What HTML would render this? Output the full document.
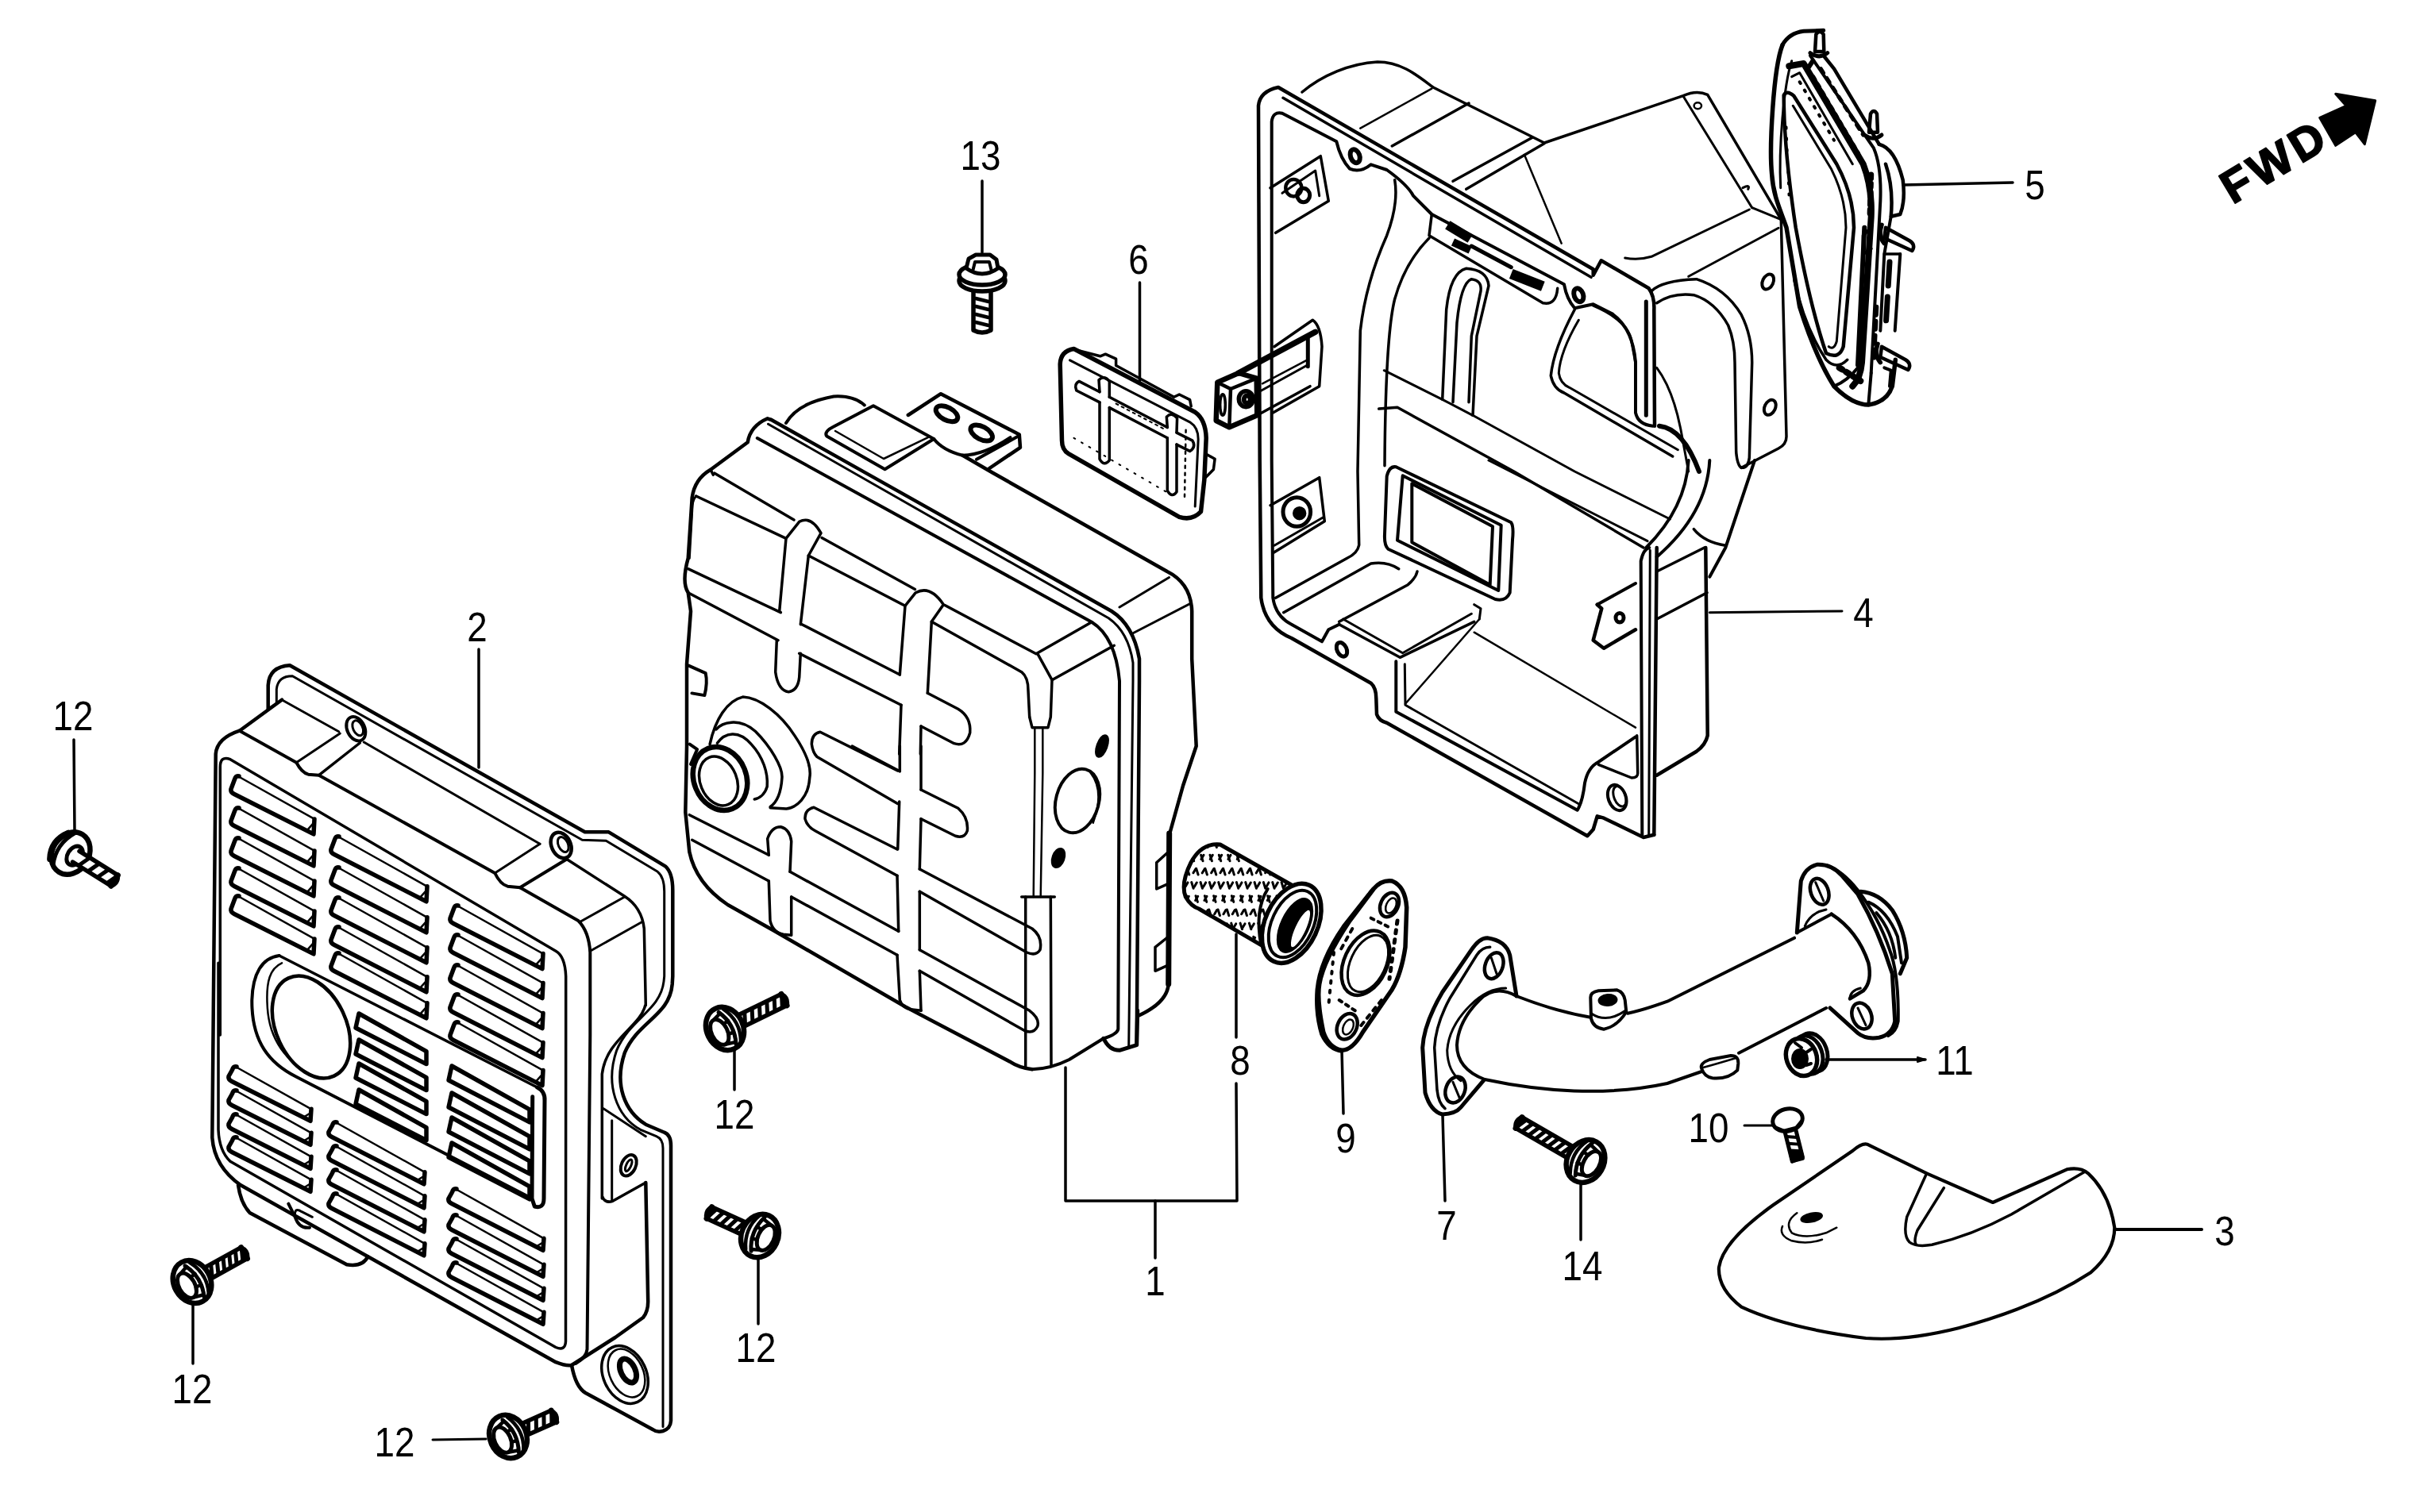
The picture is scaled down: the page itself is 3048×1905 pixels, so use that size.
<!DOCTYPE html>
<html><head><meta charset="utf-8"><style>
html,body{margin:0;padding:0;background:#fff;}
svg{display:block}
svg text{font-family:"Liberation Sans",sans-serif;}
</style></head><body>
<svg width="3048" height="1905" viewBox="0 0 3048 1905" fill="none" stroke="#000" stroke-linecap="round" stroke-linejoin="round">
<rect width="3048" height="1905" fill="#fff" stroke="none"/>
<g id="p2">
<path d="M 337.7,893.3 L 337.7,863.3 Q 339.0,840.0 365.0,838.3 L 736.7,1048.3 L 766.7,1048.3 L 838.3,1091.7 Q 847.3,1100.0 847.3,1121.7 L 847.3,1230.0 L 846.7,1240.0 C 843.3,1280.0 803.3,1286.7 786.7,1326.7 C 773.3,1366.7 786.7,1400.0 813.3,1416.7 L 836.7,1426.7 Q 845.0,1430.0 845.0,1443.3 L 845.0,1584.0 L 845.0,1790.0 Q 844.5,1800.0 835.0,1803.0 Q 827.5,1805.0 822.5,1801.2 L 737.5,1755.0 Q 725.0,1747.5 720.0,1720.0" stroke-width="4.5" />
<path d="M 348.3,885.0 L 348.3,868.3 Q 350.0,851.7 368.3,851.7 L 733.3,1058.3 L 763.3,1059.3 L 828.3,1098.3 Q 836.7,1105.0 836.7,1123.3 L 836.7,1230.0 L 836.0,1236.7 C 831.7,1273.3 793.3,1283.3 776.7,1323.3 C 761.7,1366.7 776.7,1406.7 806.7,1423.3 L 826.7,1431.7 Q 835.0,1435.0 835.0,1446.7 L 835.0,1584.0 L 835.0,1797.5" stroke-width="3" />
<path d="M 355.0,881.7 L 301.7,920.7 Q 273.3,930.0 271.7,950.0 L 267.3,1433.3 Q 270.0,1470.0 303.3,1493.3 L 700.0,1716.2 Q 712.5,1721.2 720.0,1720.0 L 775.0,1685.0 L 810.0,1660.0 Q 816.2,1652.5 816.2,1640.0 L 813.3,1490.0" stroke-width="4.5" />
<path d="M 337.7,893.3 L 355.0,881.7" stroke-width="3" />
<path d="M 715.0,1083.3 L 786.7,1129.3 Q 808.3,1143.3 811.3,1170.0 L 813.3,1266.7 L 812.7,1266.7 C 806.7,1293.3 763.3,1310.0 758.3,1353.3 L 758.3,1510.0 L 758.3,1506.7 Q 761.7,1516.7 771.7,1513.3 L 813.3,1490.0" stroke-width="3.5" />
<path d="M 770.7,1411.7 L 770.7,1511.7" stroke-width="3" />
<path d="M 760.0,1396.7 L 813.3,1431.7" stroke-width="3" />
<ellipse cx="791.7" cy="1468.3" rx="9.0" ry="14.0" transform="rotate(25 791.7 1468.3)" stroke-width="4" fill="none"/>
<ellipse cx="791.7" cy="1468.3" rx="3.0" ry="8.0" transform="rotate(25 791.7 1468.3)" stroke-width="3" fill="none"/>
<path d="M 277.3,1304.0 L 277.3,966.7 Q 277.3,951.7 290.0,956.7 L 700.0,1198.3 Q 711.7,1205.0 712.7,1230.0 L 712.7,1304.0 L 712.5,1690.0 Q 712.0,1702.5 700.0,1697.5 L 290.0,1463.3 Q 276.0,1450.0 275.0,1423.3 L 275.0,1213.3" stroke-width="3.5" />
<path d="M 355.0,881.7 L 426.7,921.7" stroke-width="3" />
<path d="M 458.3,935.0 L 680.0,1063.3" stroke-width="3" />
<ellipse cx="448.3" cy="918.3" rx="11.0" ry="16.0" transform="rotate(-25 448.3 918.3)" stroke-width="4" fill="none"/>
<ellipse cx="450.7" cy="917.3" rx="6.0" ry="10.0" transform="rotate(-25 450.7 917.3)" stroke-width="3" fill="none"/>
<ellipse cx="706.7" cy="1065.0" rx="12.0" ry="17.0" transform="rotate(-25 706.7 1065.0)" stroke-width="4.5" fill="none"/>
<ellipse cx="709.3" cy="1064.0" rx="6.0" ry="10.0" transform="rotate(-25 709.3 1064.0)" stroke-width="3" fill="none"/>
<path d="M 301.7,920.7 L 373.3,960.7 Q 380.0,973.3 388.3,975.7 L 401.7,976.7 L 623.3,1100.0 Q 630.0,1114.0 639.3,1116.7 L 655.0,1118.3 L 728.3,1160.0 Q 741.7,1173.3 743.3,1200.0 L 743.3,1304.0 L 739.5,1700.0 Q 738.8,1710.0 725.0,1718.0" stroke-width="4" />
<path d="M 373.3,960.7 L 428.3,924.0" stroke-width="3" />
<path d="M 401.7,976.7 L 453.3,936.0" stroke-width="3.5" />
<path d="M 623.3,1100.0 L 680.0,1063.3" stroke-width="3" />
<path d="M 655.0,1118.3 L 713.3,1082.7" stroke-width="4" />
<path d="M 730.0,1161.7 L 786.7,1130.0" stroke-width="3" />
<path d="M 743.3,1198.3 L 808.3,1161.7" stroke-width="3" />
<ellipse cx="392.0" cy="1294.0" rx="44.0" ry="68.0" transform="rotate(-25 392.0 1294.0)" stroke-width="4.5" fill="none"/>
<path d="M 351.7,1204.0 C 330.0,1206.7 318.3,1226.7 317.3,1260.0 C 316.7,1313.3 340.0,1340.0 373.3,1356.7 L 670.0,1510.0" stroke-width="4" />
<path d="M 355.0,1213.3 C 340.0,1220.0 335.0,1236.7 336.7,1266.7 C 338.3,1306.7 356.7,1336.7 396.7,1356.7" stroke-width="2.5" />
<path d="M 351.7,1204.0 L 676.7,1370.0" stroke-width="3.5" />
<path d="M 676.7,1370.0 Q 686.7,1375.0 686.0,1386.7 L 685.0,1510.0 Q 685.0,1523.3 673.3,1520.0 L 670.0,1510.0 L 670.7,1381.7" stroke-width="5" />
<path d="M 300.0,1493.3 Q 303.3,1516.7 315.0,1528.3 L 436.7,1593.3 Q 456.7,1596.7 463.3,1583.3" stroke-width="4.5" />
<path d="M 363.3,1516.7 L 371.7,1533.3 Q 376.7,1548.3 390.0,1546.7" stroke-width="4" />
<path d="M 371.7,1533.3 Q 370.0,1520.0 380.0,1526.7 L 393.3,1533.3" stroke-width="3" />
<ellipse cx="787.0" cy="1732.0" rx="27.0" ry="38.0" transform="rotate(-25 787.0 1732.0)" stroke-width="3.5" fill="none"/>
<ellipse cx="789.0" cy="1730.0" rx="21.0" ry="32.0" transform="rotate(-25 789.0 1730.0)" stroke-width="2.5" fill="none"/>
<ellipse cx="791.0" cy="1727.0" rx="9.0" ry="16.0" transform="rotate(-25 791.0 1727.0)" stroke-width="7" fill="none"/>
<path d="M298.0,977.0 L396.0,1031.9" stroke-width="2.5" />
<path d="M301.0,978.0 Q297.0,977.0 295.5,982.0 L291.0,994.0 Q290.0,998.0 295.0,1000.5 L395.0,1050.9 L396.0,1031.9" stroke-width="5.5" />
<path d="M395.0,1036.9 L387.0,1045.9" stroke-width="2.5" />
<path d="M298.0,1017.0 L396.0,1071.9" stroke-width="2.5" />
<path d="M301.0,1018.0 Q297.0,1017.0 295.5,1022.0 L291.0,1034.0 Q290.0,1038.0 295.0,1040.5 L395.0,1090.9 L396.0,1071.9" stroke-width="5.5" />
<path d="M395.0,1076.9 L387.0,1085.9" stroke-width="2.5" />
<path d="M298.0,1055.0 L396.0,1109.9" stroke-width="2.5" />
<path d="M301.0,1056.0 Q297.0,1055.0 295.5,1060.0 L291.0,1072.0 Q290.0,1076.0 295.0,1078.5 L395.0,1128.9 L396.0,1109.9" stroke-width="5.5" />
<path d="M395.0,1114.9 L387.0,1123.9" stroke-width="2.5" />
<path d="M298.0,1093.0 L396.0,1147.9" stroke-width="2.5" />
<path d="M301.0,1094.0 Q297.0,1093.0 295.5,1098.0 L291.0,1110.0 Q290.0,1114.0 295.0,1116.5 L395.0,1166.9 L396.0,1147.9" stroke-width="5.5" />
<path d="M395.0,1152.9 L387.0,1161.9" stroke-width="2.5" />
<path d="M298.0,1128.0 L396.0,1182.9" stroke-width="2.5" />
<path d="M301.0,1129.0 Q297.0,1128.0 295.5,1133.0 L291.0,1145.0 Q290.0,1149.0 295.0,1151.5 L395.0,1201.9 L396.0,1182.9" stroke-width="5.5" />
<path d="M395.0,1187.9 L387.0,1196.9" stroke-width="2.5" />
<path d="M424.0,1053.0 L538.0,1116.8" stroke-width="2.5" />
<path d="M427.0,1054.0 Q423.0,1053.0 421.5,1058.0 L417.0,1070.0 Q416.0,1074.0 421.0,1076.5 L537.0,1135.8 L538.0,1116.8" stroke-width="5.5" />
<path d="M537.0,1121.8 L529.0,1130.8" stroke-width="2.5" />
<path d="M424.0,1092.0 L538.0,1155.8" stroke-width="2.5" />
<path d="M427.0,1093.0 Q423.0,1092.0 421.5,1097.0 L417.0,1109.0 Q416.0,1113.0 421.0,1115.5 L537.0,1174.8 L538.0,1155.8" stroke-width="5.5" />
<path d="M537.0,1160.8 L529.0,1169.8" stroke-width="2.5" />
<path d="M424.0,1130.0 L538.0,1193.8" stroke-width="2.5" />
<path d="M427.0,1131.0 Q423.0,1130.0 421.5,1135.0 L417.0,1147.0 Q416.0,1151.0 421.0,1153.5 L537.0,1212.8 L538.0,1193.8" stroke-width="5.5" />
<path d="M537.0,1198.8 L529.0,1207.8" stroke-width="2.5" />
<path d="M424.0,1167.0 L538.0,1230.8" stroke-width="2.5" />
<path d="M427.0,1168.0 Q423.0,1167.0 421.5,1172.0 L417.0,1184.0 Q416.0,1188.0 421.0,1190.5 L537.0,1249.8 L538.0,1230.8" stroke-width="5.5" />
<path d="M537.0,1235.8 L529.0,1244.8" stroke-width="2.5" />
<path d="M424.0,1200.0 L538.0,1263.8" stroke-width="2.5" />
<path d="M427.0,1201.0 Q423.0,1200.0 421.5,1205.0 L417.0,1217.0 Q416.0,1221.0 421.0,1223.5 L537.0,1282.8 L538.0,1263.8" stroke-width="5.5" />
<path d="M537.0,1268.8 L529.0,1277.8" stroke-width="2.5" />
<path d="M574.0,1140.0 L684.0,1201.6" stroke-width="2.5" />
<path d="M577.0,1141.0 Q573.0,1140.0 571.5,1145.0 L567.0,1157.0 Q566.0,1161.0 571.0,1163.5 L683.0,1220.6 L684.0,1201.6" stroke-width="5.5" />
<path d="M683.0,1206.6 L675.0,1215.6" stroke-width="2.5" />
<path d="M574.0,1177.0 L684.0,1238.6" stroke-width="2.5" />
<path d="M577.0,1178.0 Q573.0,1177.0 571.5,1182.0 L567.0,1194.0 Q566.0,1198.0 571.0,1200.5 L683.0,1257.6 L684.0,1238.6" stroke-width="5.5" />
<path d="M683.0,1243.6 L675.0,1252.6" stroke-width="2.5" />
<path d="M574.0,1215.0 L684.0,1276.6" stroke-width="2.5" />
<path d="M577.0,1216.0 Q573.0,1215.0 571.5,1220.0 L567.0,1232.0 Q566.0,1236.0 571.0,1238.5 L683.0,1295.6 L684.0,1276.6" stroke-width="5.5" />
<path d="M683.0,1281.6 L675.0,1290.6" stroke-width="2.5" />
<path d="M574.0,1252.0 L684.0,1313.6" stroke-width="2.5" />
<path d="M577.0,1253.0 Q573.0,1252.0 571.5,1257.0 L567.0,1269.0 Q566.0,1273.0 571.0,1275.5 L683.0,1332.6 L684.0,1313.6" stroke-width="5.5" />
<path d="M683.0,1318.6 L675.0,1327.6" stroke-width="2.5" />
<path d="M574.0,1287.0 L684.0,1348.6" stroke-width="2.5" />
<path d="M577.0,1288.0 Q573.0,1287.0 571.5,1292.0 L567.0,1304.0 Q566.0,1308.0 571.0,1310.5 L683.0,1367.6 L684.0,1348.6" stroke-width="5.5" />
<path d="M683.0,1353.6 L675.0,1362.6" stroke-width="2.5" />
<path d="M295.0,1343.0 L392.0,1397.3" stroke-width="2.5" />
<path d="M298.0,1344.0 Q294.0,1343.0 292.5,1348.0 L288.0,1356.0 Q287.0,1360.0 292.0,1362.5 L391.0,1412.3 L392.0,1397.3" stroke-width="5.5" />
<path d="M391.0,1402.3 L383.0,1407.3" stroke-width="2.5" />
<path d="M295.0,1373.0 L392.0,1427.3" stroke-width="2.5" />
<path d="M298.0,1374.0 Q294.0,1373.0 292.5,1378.0 L288.0,1386.0 Q287.0,1390.0 292.0,1392.5 L391.0,1442.3 L392.0,1427.3" stroke-width="5.5" />
<path d="M391.0,1432.3 L383.0,1437.3" stroke-width="2.5" />
<path d="M295.0,1403.0 L392.0,1457.3" stroke-width="2.5" />
<path d="M298.0,1404.0 Q294.0,1403.0 292.5,1408.0 L288.0,1416.0 Q287.0,1420.0 292.0,1422.5 L391.0,1472.3 L392.0,1457.3" stroke-width="5.5" />
<path d="M391.0,1462.3 L383.0,1467.3" stroke-width="2.5" />
<path d="M295.0,1432.0 L392.0,1486.3" stroke-width="2.5" />
<path d="M298.0,1433.0 Q294.0,1432.0 292.5,1437.0 L288.0,1445.0 Q287.0,1449.0 292.0,1451.5 L391.0,1501.3 L392.0,1486.3" stroke-width="5.5" />
<path d="M391.0,1491.3 L383.0,1496.3" stroke-width="2.5" />
<path d="M452.0,1277.0 L537.0,1324.6 L537.0,1340.6 L448.0,1295.0 Z" stroke-width="5.5" />
<path d="M452.0,1310.0 L537.0,1357.6 L537.0,1373.6 L448.0,1328.0 Z" stroke-width="5.5" />
<path d="M452.0,1340.0 L537.0,1387.6 L537.0,1403.6 L448.0,1358.0 Z" stroke-width="5.5" />
<path d="M452.0,1373.0 L537.0,1420.6 L537.0,1436.6 L448.0,1391.0 Z" stroke-width="5.5" />
<path d="M569.0,1343.0 L667.0,1397.9 L667.0,1413.9 L565.0,1361.0 Z" stroke-width="5.5" />
<path d="M569.0,1377.0 L667.0,1431.9 L667.0,1447.9 L565.0,1395.0 Z" stroke-width="5.5" />
<path d="M569.0,1408.0 L667.0,1462.9 L667.0,1478.9 L565.0,1426.0 Z" stroke-width="5.5" />
<path d="M569.0,1440.0 L667.0,1494.9 L667.0,1510.9 L565.0,1458.0 Z" stroke-width="5.5" />
<path d="M421.0,1413.0 L535.0,1476.8" stroke-width="2.5" />
<path d="M424.0,1414.0 Q420.0,1413.0 418.5,1418.0 L414.0,1426.0 Q413.0,1430.0 418.0,1432.5 L534.0,1491.8 L535.0,1476.8" stroke-width="5.5" />
<path d="M534.0,1481.8 L526.0,1486.8" stroke-width="2.5" />
<path d="M421.0,1443.0 L535.0,1506.8" stroke-width="2.5" />
<path d="M424.0,1444.0 Q420.0,1443.0 418.5,1448.0 L414.0,1456.0 Q413.0,1460.0 418.0,1462.5 L534.0,1521.8 L535.0,1506.8" stroke-width="5.5" />
<path d="M534.0,1511.8 L526.0,1516.8" stroke-width="2.5" />
<path d="M421.0,1473.0 L535.0,1536.8" stroke-width="2.5" />
<path d="M424.0,1474.0 Q420.0,1473.0 418.5,1478.0 L414.0,1486.0 Q413.0,1490.0 418.0,1492.5 L534.0,1551.8 L535.0,1536.8" stroke-width="5.5" />
<path d="M534.0,1541.8 L526.0,1546.8" stroke-width="2.5" />
<path d="M421.0,1503.0 L535.0,1566.8" stroke-width="2.5" />
<path d="M424.0,1504.0 Q420.0,1503.0 418.5,1508.0 L414.0,1516.0 Q413.0,1520.0 418.0,1522.5 L534.0,1581.8 L535.0,1566.8" stroke-width="5.5" />
<path d="M534.0,1571.8 L526.0,1576.8" stroke-width="2.5" />
<path d="M572.0,1497.0 L685.0,1560.3" stroke-width="2.5" />
<path d="M575.0,1498.0 Q571.0,1497.0 569.5,1502.0 L565.0,1510.0 Q564.0,1514.0 569.0,1516.5 L684.0,1575.3 L685.0,1560.3" stroke-width="5.5" />
<path d="M684.0,1565.3 L676.0,1570.3" stroke-width="2.5" />
<path d="M572.0,1530.0 L685.0,1593.3" stroke-width="2.5" />
<path d="M575.0,1531.0 Q571.0,1530.0 569.5,1535.0 L565.0,1543.0 Q564.0,1547.0 569.0,1549.5 L684.0,1608.3 L685.0,1593.3" stroke-width="5.5" />
<path d="M684.0,1598.3 L676.0,1603.3" stroke-width="2.5" />
<path d="M572.0,1560.0 L685.0,1623.3" stroke-width="2.5" />
<path d="M575.0,1561.0 Q571.0,1560.0 569.5,1565.0 L565.0,1573.0 Q564.0,1577.0 569.0,1579.5 L684.0,1638.3 L685.0,1623.3" stroke-width="5.5" />
<path d="M684.0,1628.3 L676.0,1633.3" stroke-width="2.5" />
<path d="M572.0,1590.0 L685.0,1653.3" stroke-width="2.5" />
<path d="M575.0,1591.0 Q571.0,1590.0 569.5,1595.0 L565.0,1603.0 Q564.0,1607.0 569.0,1609.5 L684.0,1668.3 L685.0,1653.3" stroke-width="5.5" />
<path d="M684.0,1658.3 L676.0,1663.3" stroke-width="2.5" />
</g>
<g id="p1">
<path d="M 1300.0,1347.3 Q 1283.3,1345.0 1273.3,1338.3 L 1140.0,1268.3 L 973.3,1171.7 L 916.7,1140.0 Q 876.7,1113.3 868.3,1073.3 L 863.3,1023.3 L 865.0,940.0 L 865.0,836.7 L 870.0,770.0 L 866.7,746.7 Q 858.3,733.3 866.7,703.3 L 871.7,626.7 Q 875.0,603.3 895.0,591.7 L 941.7,557.3 Q 945.0,536.7 966.7,527.3 L 971.2,528.8" stroke-width="4.5" />
<path d="M 971.2,528.8 L 1400.0,770.0 Q 1427.5,787.5 1435.0,830.0 L 1435.0,858.0 L 1431.7,1315.0" stroke-width="4.5" />
<path d="M 967.5,534.2 L 1396.2,778.8 Q 1421.2,796.2 1427.0,835.0 L 1427.0,858.0 L 1421.7,1318.3" stroke-width="3" />
<path d="M 953.8,552.0 L 1375.0,783.8 Q 1405.0,802.5 1410.0,858.0 L 1408.3,1296.7 Q 1406.7,1303.3 1390.0,1308.3 L 1346.7,1335.0 Q 1323.3,1346.7 1300.0,1347.3" stroke-width="4" />
<path d="M 1390.0,1308.3 Q 1396.7,1323.3 1410.0,1323.3 L 1431.7,1316.7 L 1432.7,1273.3" stroke-width="5" />
<path d="M 990.0,533.0 Q 1005.0,507.5 1050.0,499.5 Q 1075.0,498.0 1088.8,510.5" stroke-width="4" />
<path d="M 1050.0,537.5 L 1100.0,511.2 L 1176.2,553.0 L 1114.5,591.2 L 1041.2,549.5 Q 1037.5,543.8 1050.0,537.5" stroke-width="4" />
<path d="M 1052.0,543.0 L 1113.0,578.0 L 1168.8,551.2" stroke-width="2.5" />
<path d="M 1143.8,523.0 L 1185.0,496.2 L 1283.8,547.5 L 1285.0,563.8 L 1246.2,590.0" stroke-width="4.5" />
<path d="M 1283.8,548.8 L 1230.0,578.8" stroke-width="4" />
<path d="M 1176.2,553.0 Q 1187.5,567.5 1212.5,573.8 Q 1240.0,573.0 1272.5,551.2" stroke-width="4" />
<path d="M 1212.5,573.8 L 1250.0,595.5 L 1470.0,720.0 Q 1500.0,735.0 1501.2,770.0 L 1501.2,830.0 L 1506.7,940.0 L 1490.0,990.0 L 1473.3,1050.0 L 1471.7,1240.0 Q 1470.0,1263.3 1433.3,1280.0" stroke-width="4.5" />
<ellipse cx="1192.5" cy="521.2" rx="15.0" ry="8.0" transform="rotate(28 1192.5 521.2)" stroke-width="6" fill="none"/>
<ellipse cx="1236.2" cy="545.5" rx="15.0" ry="8.0" transform="rotate(28 1236.2 545.5)" stroke-width="6" fill="none"/>
<path d="M 1472.5,727.5 L 1410.0,765.0" stroke-width="3" />
<path d="M 1500.0,760.0 L 1427.5,797.5" stroke-width="3" />
<path d="M 1472.7,1050.0 L 1471.7,1240.0" stroke-width="7" />
<path d="M 1471.7,1073.3 L 1456.7,1086.7 L 1456.7,1120.0 L 1471.7,1113.3" stroke-width="3.5" />
<path d="M 1471.7,1180.0 L 1455.0,1193.3 L 1455.0,1223.3 L 1470.0,1216.7" stroke-width="3.5" />
<path d="M 900.0,596.2 L 1000.0,655.0" stroke-width="3.5" />
<path d="M 895.0,591.7 L 898.3,598.3" stroke-width="3.5" />
<path d="M 1035.0,677.5 L 1152.5,742.5" stroke-width="3.5" />
<path d="M 1190.0,762.5 L 1305.0,823.8 L 1375.0,783.8" stroke-width="3.5" />
<path d="M 876.7,625.0 L 990.0,678.3" stroke-width="3.5" />
<path d="M 876.7,625.0 Q 871.7,630.0 871.7,643.3 L 868.3,703.3" stroke-width="3" />
<path d="M 1018.3,700.0 L 1140.0,763.3" stroke-width="3.5" />
<path d="M 1173.3,783.3 L 1286.7,846.7 Q 1295.0,853.3 1295.0,870.0 L 1296.7,903.3" stroke-width="3.5" />
<path d="M 981.7,770.0 L 990.0,678.3 L 1006.7,657.3 Q 1021.7,649.3 1034.0,671.7 L 1018.3,700.0 L 1008.3,786.7" stroke-width="3.5" />
<path d="M 978.3,806.7 L 976.7,846.7 Q 980.0,870.0 993.3,871.7 Q 1005.0,870.0 1006.7,853.3 L 1008.3,823.3" stroke-width="3.5" />
<path d="M 866.7,716.7 L 983.3,771.7" stroke-width="3.5" />
<path d="M 866.7,746.7 L 980.0,806.7" stroke-width="3.5" />
<path d="M 1010.0,786.7 L 1133.3,850.0" stroke-width="3.5" />
<path d="M 1006.7,823.3 L 1135.0,888.3" stroke-width="3.5" />
<path d="M 1168.3,873.3 L 1206.7,893.3 Q 1223.3,903.3 1221.7,923.3 Q 1216.7,941.7 1201.7,936.7 L 1160.0,915.0" stroke-width="3.5" />
<path d="M 1133.3,850.0 L 1140.0,763.3 L 1153.3,746.7 Q 1171.7,736.7 1188.3,761.7 L 1173.3,783.3 L 1168.3,873.3" stroke-width="3.5" />
<path d="M 1135.0,888.3 L 1132.7,950.0" stroke-width="3.5" />
<path d="M 1160.0,915.0 L 1159.3,950.0" stroke-width="3.5" />
<path d="M 1133.3,940.0 L 1133.3,971.7" stroke-width="3.5" />
<path d="M 1132.7,1010.0 L 1130.7,1070.0" stroke-width="3.5" />
<path d="M 1130.0,1103.3 L 1131.7,1173.3" stroke-width="3.5" />
<path d="M 1130.0,1203.3 L 1133.3,1260.0 Q 1136.7,1270.0 1146.7,1271.7 L 1160.0,1273.3" stroke-width="3.5" />
<path d="M 1160.0,940.0 L 1160.0,995.0" stroke-width="3.5" />
<path d="M 1160.0,1031.7 L 1158.3,1095.0" stroke-width="3.5" />
<path d="M 1158.3,1123.3 L 1158.3,1196.7" stroke-width="3.5" />
<path d="M 1158.3,1223.3 L 1160.0,1273.3" stroke-width="3.5" />
<path d="M 1306.7,823.3 L 1325.0,856.7 L 1403.3,813.3" stroke-width="3.5" />
<path d="M 1325.0,856.7 L 1323.3,903.3 L 1320.0,916.7 L 1300.0,916.7 L 1296.7,903.3" stroke-width="3.5" />
<path d="M 1303.3,916.7 L 1303.3,974.0 L 1301.7,1130.0" stroke-width="2.5" />
<path d="M 1313.3,916.7 L 1313.3,974.0 L 1310.7,1130.0" stroke-width="2.5" />
<path d="M 1286.7,1130.0 L 1328.3,1130.0" stroke-width="3.5" />
<path d="M 1291.7,1130.0 L 1291.7,1343.3" stroke-width="3.5" />
<path d="M 1323.3,1130.0 L 1324.0,1341.7" stroke-width="3.5" />
<ellipse cx="1388.0" cy="940.0" rx="5.0" ry="13.0" transform="rotate(20 1388.0 940.0)" stroke-width="5" fill="#000"/>
<ellipse cx="1357.0" cy="1009.0" rx="27.0" ry="41.0" transform="rotate(15 1357.0 1009.0)" stroke-width="4" fill="none"/>
<path d="M 1373.3,973.3 Q 1391.7,996.7 1376.7,1036.7" stroke-width="2.5" />
<ellipse cx="1333.0" cy="1081.0" rx="6.0" ry="11.0" transform="rotate(20 1333.0 1081.0)" stroke-width="5" fill="#000"/>
<path d="M 1130.5,970.9 L 1033.0,922.2 Q 1022.3,924.2 1022.3,937.6 Q 1023.7,948.2 1029.0,953.6 L 1130.5,1012.4" stroke-width="3.5" />
<path d="M 1073.3,940.0 L 1133.3,971.7" stroke-width="3.5" />
<path d="M 1160.0,995.0 L 1206.7,1018.3 Q 1220.0,1030.0 1218.3,1046.7 Q 1215.0,1056.7 1203.3,1053.3 L 1160.0,1031.7" stroke-width="3.5" />
<path d="M 1130.0,1070.0 L 1025.0,1017.3 Q 1013.3,1020.0 1014.0,1031.7 Q 1016.7,1041.7 1026.7,1046.7 L 1130.0,1103.3" stroke-width="3.5" />
<path d="M 1158.3,1095.0 L 1300.0,1170.0 Q 1313.3,1180.0 1310.0,1196.7 Q 1305.0,1205.0 1293.3,1200.0 L 1158.3,1123.3" stroke-width="3.5" />
<path d="M 868.3,1026.7 L 968.3,1077.3" stroke-width="3.5" />
<path d="M 871.7,1058.3 L 968.3,1110.0" stroke-width="3.5" />
<path d="M 995.0,1098.3 L 1131.7,1173.3" stroke-width="3.5" />
<path d="M 996.7,1130.0 L 1130.0,1203.3" stroke-width="3.5" />
<path d="M 1158.3,1196.7 L 1296.7,1273.3 Q 1310.0,1283.3 1306.7,1293.3 Q 1301.7,1303.3 1290.0,1298.3 L 1158.3,1223.3" stroke-width="3.5" />
<path d="M 968.3,1077.3 L 966.7,1056.7 Q 971.7,1041.7 983.3,1041.7 Q 995.0,1045.0 996.7,1060.0 L 995.0,1098.3" stroke-width="3.5" />
<path d="M 968.3,1110.0 L 970.0,1160.0 Q 973.3,1175.0 986.7,1177.3 L 996.7,1178.3 L 996.7,1130.0" stroke-width="3.5" />
<path d="M 894.1,937.6 C 900.8,906.8 915.5,882.8 935.5,878.1 C 956.9,878.8 983.6,900.1 1000.9,926.9 C 1014.3,946.9 1022.3,966.9 1019.7,980.3 C 1018.3,1004.3 1003.6,1017.7 990.3,1019.0 L 970.2,1017.7" stroke-width="3.5" />
<path d="M 902.1,918.9 C 908.8,910.8 930.1,902.8 951.5,921.5 C 970.2,940.2 986.3,966.9 984.9,980.3 C 983.6,1000.3 978.2,1011.0 970.2,1016.4" stroke-width="3.5" />
<path d="M 903.4,936.2 C 912.8,922.9 930.1,918.9 946.2,937.6 C 960.9,953.6 967.6,973.6 966.2,991.0 C 963.5,1000.3 956.9,1005.7 950.2,1007.0" stroke-width="3.5" />
<ellipse cx="907.0" cy="981.0" rx="33.0" ry="41.0" transform="rotate(-22 907.0 981.0)" stroke-width="6.5" fill="none"/>
<ellipse cx="905.0" cy="984.0" rx="23.0" ry="32.0" transform="rotate(-22 905.0 984.0)" stroke-width="3.5" fill="none"/>
<path d="M 867.4,838.7 L 888.7,848.1 Q 891.4,860.1 887.4,876.1 L 871.4,873.4" stroke-width="4" />
<path d="M 868.7,937.6 L 878.1,944.2 L 870.0,962.9" stroke-width="4" />
</g>
<g id="p4">
<path d="M 2083.3,1051.7 L 2070.0,1055.0 L 2020.0,1030.7 L 2011.7,1028.3 L 2006.7,1045.0 L 1999.3,1053.3 L 1746.7,910.7 Q 1736.7,908.3 1734.0,900.0 L 1733.3,880.0 Q 1733.3,866.7 1726.7,860.7 L 1626.7,804.0 Q 1593.3,790.0 1588.3,753.3 L 1586.7,580.0 L 1585.0,133.3 Q 1586.7,115.0 1610.0,110.0 L 2006.7,339.3 L 2006.7,346.7 L 2016.7,328.3 L 2076.7,363.3 Q 2084.0,373.3 2083.3,390.0 L 2084.0,536.7" stroke-width="4.5" />
<path d="M 1616.0,123.3 L 2004.0,349.3" stroke-width="3.5" />
<path d="M 1686.7,786.7 L 1673.3,793.3 L 1665.0,808.3 L 1626.7,786.7 Q 1606.7,776.7 1603.3,753.3 L 1601.7,580.0 L 1601.7,153.3 Q 1603.3,140.0 1615.0,142.7 L 1683.3,178.3 Q 1688.3,200.0 1700.0,212.7 Q 1713.3,218.3 1726.7,207.3 L 1746.7,214.0 Q 1773.3,233.3 1780.0,246.7 L 1803.3,270.0 L 1970.0,358.3 Q 1973.3,376.7 1983.3,388.3 L 2006.7,383.3 L 2030.0,395.0 Q 2056.7,413.3 2060.0,456.7 L 2060.0,520.0 Q 2063.3,535.0 2081.7,536.7" stroke-width="4" />
<ellipse cx="1706.7" cy="196.7" rx="5.7" ry="8.7" transform="rotate(-20 1706.7 196.7)" stroke-width="6" fill="none"/>
<ellipse cx="1988.3" cy="371.7" rx="5.7" ry="8.7" transform="rotate(-20 1988.3 371.7)" stroke-width="6" fill="none"/>
<path d="M 2073.3,380.0 L 2073.3,523.3" stroke-width="5" />
<path d="M1640,116 C1665,95 1700,80 1735,78 C1765,78 1785,95 1805,110 L1945,180" stroke-width="3.5" />
<path d="M 1713.3,161.7 L 1803.3,111.7" stroke-width="2.5" />
<path d="M 1753.3,184.0 L 1850.0,130.0" stroke-width="3.5" />
<path d="M 1830.0,228.3 L 1930.0,173.3" stroke-width="3.5" />
<path d="M 1846.7,238.3 L 1945.0,180.7" stroke-width="3.5" />
<path d="M 1945.0,180.0 L 2120.0,120.7 Q 2136.7,113.3 2150.7,119.3 L 2243.3,276.7" stroke-width="3.5" />
<path d="M 2120.7,122.3 L 2206.7,261.7" stroke-width="3" />
<path d="M 1920.0,195.0 L 1966.7,306.7" stroke-width="2.5" />
<path d="M 2206.7,261.7 L 2243.3,276.7" stroke-width="3" />
<path d="M 2203.3,264.0 L 2080.0,323.3 Q 2063.3,328.3 2046.7,325.0" stroke-width="3" />
<path d="M 2240.0,287.3 L 2126.7,348.3" stroke-width="3" />
<path d="M 2243.3,276.7 L 2250.0,550.0 Q 2250.0,560.0 2240.0,565.0 L 2193.3,589.3" stroke-width="3.5" />
<ellipse cx="2138.3" cy="133.3" rx="4.7" ry="4.0" transform="rotate(0 2138.3 133.3)" stroke-width="2.5" fill="none"/>
<ellipse cx="2226.7" cy="355.0" rx="6.7" ry="10.0" transform="rotate(25 2226.7 355.0)" stroke-width="4" fill="none"/>
<ellipse cx="2229.3" cy="513.3" rx="6.7" ry="10.0" transform="rotate(25 2229.3 513.3)" stroke-width="4" fill="none"/>
<path d="M 2195.0,236.7 Q 2205.0,231.7 2201.7,238.3" stroke-width="3" />
<path d="M 2080.0,366.7 Q 2093.3,353.3 2136.7,351.7 Q 2173.3,363.3 2193.3,396.7 Q 2206.7,423.3 2206.7,456.7 L 2203.3,576.7 Q 2201.7,590.0 2193.3,589.3" stroke-width="3.5" />
<path d="M 2086.7,381.7 Q 2106.7,368.3 2133.3,371.7 Q 2160.0,380.0 2176.7,410.0 Q 2185.0,430.0 2185.0,456.7 L 2186.7,570.0 Q 2188.3,586.7 2193.3,589.3" stroke-width="3.5" />
<path d="M 1600.0,236.7 L 1663.3,196.7 L 1673.3,253.3 L 1606.7,293.3" stroke-width="3.5" />
<path d="M 1615.0,243.3 L 1656.7,215.0 L 1661.7,246.7" stroke-width="3" />
<ellipse cx="1629.3" cy="236.7" rx="10.0" ry="10.7" transform="rotate(0 1629.3 236.7)" stroke-width="4.5" fill="none"/>
<ellipse cx="1641.7" cy="246.0" rx="8.0" ry="8.7" transform="rotate(0 1641.7 246.0)" stroke-width="5" fill="none"/>
<path d="M 1756.7,226.7 Q 1761.7,256.7 1746.7,296.7 Q 1720.0,356.7 1713.3,416.7 L 1710.0,594.0 L 1711.7,686.7 Q 1710.0,696.7 1696.7,703.3 L 1606.7,753.3" stroke-width="3.5" />
<path d="M 1800.0,300.0 Q 1770.0,330.0 1756.7,376.7 Q 1745.0,423.3 1744.0,586.7" stroke-width="3.5" />
<path d="M 1803.3,270.0 L 1800.0,296.7 L 1943.3,381.7 Q 1960.0,385.0 1961.7,363.3" stroke-width="3.5" />
<path d="M 1823.3,283.3 L 1851.7,300.7" stroke-width="12" stroke-linecap="butt"/>
<path d="M 1830.0,305.0 L 1851.7,315.0" stroke-width="10" stroke-linecap="butt"/>
<path d="M 1903.3,345.0 L 1943.3,360.7" stroke-width="13" stroke-linecap="butt"/>
<path d="M 1853.3,310.0 L 1903.3,336.7" stroke-width="5" />
<path d="M 1816.7,503.3 L 1821.7,390.0 Q 1826.7,343.3 1846.7,338.3 Q 1873.3,340.0 1875.0,360.0 L 1860.0,423.3 L 1855.0,523.3" stroke-width="3.5" />
<path d="M 1830.0,506.7 L 1835.0,406.7 Q 1840.0,356.7 1853.3,351.7 Q 1866.7,353.3 1865.0,366.7 L 1853.3,423.3 L 1850.0,506.7" stroke-width="3.5" />
<path d="M 1743.3,466.7 L 1816.7,503.3 L 1855.0,523.3 L 1983.3,594.0 L 2103.3,654.0" stroke-width="3" />
<path d="M 1736.7,515.0 L 1760.0,513.3 L 1906.7,594.0 L 2070.0,690.0" stroke-width="3.5" />
<path d="M 1875.0,580.0 L 2075.0,681.7" stroke-width="3" />
<path d="M 1983.3,390.0 Q 1956.7,440.0 1953.3,473.3 Q 1956.7,490.0 1970.0,495.0 L 2106.7,575.0" stroke-width="3.5" />
<path d="M 1988.3,403.3 Q 1965.0,443.3 1963.3,470.0 Q 1965.0,483.3 1976.7,488.3 L 2113.3,566.7" stroke-width="3" />
<path d="M 2006.7,385.0 Q 2050.0,403.3 2055.0,430.0 L 2060.0,456.7" stroke-width="3.5" />
<path d="M 2086.7,463.3 Q 2106.7,490.0 2116.7,540.0 L 2126.7,594.0" stroke-width="3" />
<path d="M 2090.0,536.7 Q 2120.0,540.0 2140.0,594.0" stroke-width="6" />
<path d="M 1605.0,436.7 L 1653.3,403.3 Q 1663.3,410.0 1665.0,436.7 L 1661.7,486.7 L 1603.3,520.0" stroke-width="3.5" />
<path d="M 1533.3,481.7 L 1531.7,530.0 L 1548.3,538.3 L 1583.3,523.3 L 1582.7,476.7 L 1560.0,470.0 Z" stroke-width="6.5" fill="#fff"/>
<path d="M 1533.3,481.7 L 1550.0,490.0 L 1548.3,538.3" stroke-width="4.5" />
<path d="M 1550.0,490.0 L 1582.7,476.7" stroke-width="4.5" />
<ellipse cx="1569.3" cy="502.7" rx="9.0" ry="10.0" transform="rotate(0 1569.3 502.7)" stroke-width="5.5" fill="none"/>
<ellipse cx="1570.7" cy="503.3" rx="4.0" ry="4.7" transform="rotate(0 1570.7 503.3)" stroke-width="6" fill="none"/>
<ellipse cx="1540.0" cy="510.0" rx="3.3" ry="13.3" transform="rotate(0 1540.0 510.0)" stroke-width="3.5" fill="none"/>
<path d="M 1560.0,470.0 L 1656.7,418.3" stroke-width="7.5" />
<path d="M 1583.3,495.0 L 1646.7,460.0" stroke-width="3" />
<path d="M 1647.3,423.3 L 1647.3,461.7" stroke-width="5" />
<path d="M 1583.3,523.3 L 1650.0,486.7" stroke-width="3.5" />
<path d="M 1590.0,483.3 L 1646.7,453.3" stroke-width="2.5" />
<path d="M 2083.3,1051.7 L 2086.7,690.0" stroke-width="4.5" />
<path d="M 2076.7,1051.7 L 2078.3,693.3" stroke-width="3" />
<path d="M 2068.3,1051.7 L 2066.7,706.7 Q 2070.0,691.7 2077.3,690.0" stroke-width="4" />
<path d="M 2126.7,580.0 Q 2123.3,640.0 2073.3,690.0" stroke-width="4" />
<path d="M 2153.3,580.0 Q 2150.0,646.7 2086.7,701.7" stroke-width="4" />
<path d="M 2086.7,720.0 L 2146.7,690.0" stroke-width="3.5" />
<path d="M 2086.7,780.0 L 2150.0,746.7" stroke-width="3.5" />
<path d="M 2148.3,690.0 L 2150.7,926.7 Q 2148.3,938.3 2136.7,946.7 L 2086.7,976.7" stroke-width="4.5" />
<path d="M 2210.0,580.0 L 2173.3,690.0 L 2153.3,726.7" stroke-width="4" />
<path d="M 2133.3,666.7 Q 2146.7,683.3 2173.3,687.3" stroke-width="3.5" />
<ellipse cx="1690.0" cy="818.3" rx="6.0" ry="9.3" transform="rotate(-25 1690.0 818.3)" stroke-width="5" fill="none"/>
<path d="M 1686.7,786.7 L 1763.3,828.3 L 1856.7,783.3" stroke-width="3.5" />
<path d="M 1691.7,780.0 L 1766.7,822.7 L 1853.3,773.3" stroke-width="3" />
<path d="M 1758.3,833.3 L 1758.3,896.7 L 1986.7,1020.7 Q 1993.3,1010.0 1996.0,986.7 Q 2000.0,966.7 2013.3,960.0 L 2060.0,928.3" stroke-width="4" />
<path d="M 1769.3,836.7 L 1770.0,888.3 L 1988.3,1012.7" stroke-width="3" />
<path d="M 1770.0,886.7 L 1863.3,780.0" stroke-width="2.5" />
<path d="M 1856.7,761.7 L 1865.0,766.7 L 1863.3,780.0" stroke-width="3" />
<path d="M 1856.7,796.7 L 2060.0,916.7" stroke-width="2.5" />
<path d="M 2013.3,963.3 L 2055.0,980.0 Q 2063.3,980.0 2062.7,973.3 L 2061.7,926.7" stroke-width="3.5" />
<path d="M 1758.3,588.3 L 1903.3,658.3 Q 1906.7,663.3 1905.0,680.0 L 1901.7,746.7 Q 1896.7,758.3 1883.3,755.0 L 1748.3,691.7 Q 1743.3,686.7 1744.0,673.3 L 1746.7,600.0 Q 1750.0,586.7 1758.3,588.3" stroke-width="4" />
<path d="M 1766.7,599.3 L 1890.7,661.7 L 1887.3,744.0 L 1760.0,680.7 Z" stroke-width="4" />
<path d="M 1778.3,609.3 L 1880.0,663.3 L 1876.7,736.7 L 1778.3,683.3 Z" stroke-width="4" />
<path d="M 1600.0,636.7 L 1661.7,601.7 L 1668.3,656.7 L 1603.3,696.7" stroke-width="3.5" />
<path d="M 1605.0,687.3 L 1666.7,651.7" stroke-width="3" />
<ellipse cx="1633.3" cy="645.0" rx="17.3" ry="18.3" transform="rotate(0 1633.3 645.0)" stroke-width="5" fill="none"/>
<ellipse cx="1636.7" cy="646.7" rx="6.7" ry="6.7" transform="rotate(0 1636.7 646.7)" stroke-width="4" fill="#000"/>
<path d="M 1616.7,771.7 L 1726.7,710.0 Q 1746.7,706.7 1761.7,716.7" stroke-width="3.5" />
<path d="M 1686.7,783.3 L 1773.3,736.7 Q 1783.3,728.3 1785.0,720.0" stroke-width="3.5" />
<path d="M 2011.7,761.7 L 2060.0,735.0" stroke-width="4" />
<path d="M 2011.7,761.7 L 2017.3,766.7 L 2006.7,806.7 L 2020.0,816.7 L 2060.0,793.3" stroke-width="4.5" />
<ellipse cx="2040.0" cy="778.3" rx="5.0" ry="5.7" transform="rotate(0 2040.0 778.3)" stroke-width="5" fill="none"/>
<ellipse cx="2036.7" cy="1005.0" rx="11.0" ry="16.7" transform="rotate(-20 2036.7 1005.0)" stroke-width="4" fill="none"/>
<ellipse cx="2040.0" cy="1003.3" rx="7.3" ry="13.3" transform="rotate(-20 2040.0 1003.3)" stroke-width="3" fill="none"/>
<path d="M 2153.3,771.7 L 2320.0,770.0" stroke-width="3" />
</g>
<g id="bolts">
<g transform="translate(89.0 1075.0) rotate(32.0) scale(1.000)">
<ellipse cx="0" cy="0" rx="23" ry="28" stroke-width="6.5" fill="#fff"/>
<path d="M-9,-24 Q-22,0 -11,24" stroke-width="5"/>
<path d="M-16,-20 Q-30,0 -18,20" stroke-width="8"/>
<ellipse cx="6" cy="0" rx="9" ry="13" stroke-width="5" fill="#fff"/>
<path d="M8,-8 L65,-8 Q71,0 65,8 L8,8" stroke-width="5.5" fill="#fff"/>
<path d="M23.0,-7 L17.0,7" stroke-width="5"/>
<path d="M37.0,-7 L31.0,7" stroke-width="5"/>
<path d="M51.0,-7 L45.0,7" stroke-width="5"/>
<path d="M65.0,-7 L59.0,7" stroke-width="5"/>
<path d="M65,-8 L65,8" stroke-width="7"/>
</g>
<g transform="translate(242.0 1615.0) rotate(-29.0) scale(1.000)">
<path d="M16,-8 L75,-8 Q81,0 75,8 L16,8" stroke-width="5.5" fill="#fff"/>
<path d="M31.0,-7 L25.0,7" stroke-width="5"/>
<path d="M39.8,-7 L33.8,7" stroke-width="5"/>
<path d="M48.6,-7 L42.6,7" stroke-width="5"/>
<path d="M57.4,-7 L51.4,7" stroke-width="5"/>
<path d="M66.2,-7 L60.2,7" stroke-width="5"/>
<path d="M75.0,-7 L69.0,7" stroke-width="5"/>
<path d="M75,-8 L75,8" stroke-width="7"/>
<ellipse cx="0" cy="0" rx="23" ry="28" stroke-width="6.5" fill="#fff"/>
<path d="M9,-23 Q22,0 11,23" stroke-width="4.5"/>
<path d="M2,-22 Q14,0 4,24" stroke-width="5"/>
<ellipse cx="-8" cy="1" rx="10" ry="17" stroke-width="5" fill="#fff"/>
<path d="M-8,-16 L3,-20 M-8,18 L4,21 M1,-6 L8,-7 M1,8 L8,9" stroke-width="4.5"/>
</g>
<g transform="translate(640.0 1810.0) rotate(-24.0) scale(1.000)">
<path d="M16,-8 L63,-8 Q69,0 63,8 L16,8" stroke-width="5.5" fill="#fff"/>
<path d="M31.0,-7 L25.0,7" stroke-width="5"/>
<path d="M41.7,-7 L35.7,7" stroke-width="5"/>
<path d="M52.3,-7 L46.3,7" stroke-width="5"/>
<path d="M63.0,-7 L57.0,7" stroke-width="5"/>
<path d="M63,-8 L63,8" stroke-width="7"/>
<ellipse cx="0" cy="0" rx="23" ry="28" stroke-width="6.5" fill="#fff"/>
<path d="M9,-23 Q22,0 11,23" stroke-width="4.5"/>
<path d="M2,-22 Q14,0 4,24" stroke-width="5"/>
<ellipse cx="-8" cy="1" rx="10" ry="17" stroke-width="5" fill="#fff"/>
<path d="M-8,-16 L3,-20 M-8,18 L4,21 M1,-6 L8,-7 M1,8 L8,9" stroke-width="4.5"/>
</g>
<g transform="translate(913.0 1296.0) rotate(-26.0) scale(1.000)">
<path d="M16,-8 L83,-8 Q89,0 83,8 L16,8" stroke-width="5.5" fill="#fff"/>
<path d="M31.0,-7 L25.0,7" stroke-width="5"/>
<path d="M41.4,-7 L35.4,7" stroke-width="5"/>
<path d="M51.8,-7 L45.8,7" stroke-width="5"/>
<path d="M62.2,-7 L56.2,7" stroke-width="5"/>
<path d="M72.6,-7 L66.6,7" stroke-width="5"/>
<path d="M83.0,-7 L77.0,7" stroke-width="5"/>
<path d="M83,-8 L83,8" stroke-width="7"/>
<ellipse cx="0" cy="0" rx="23" ry="28" stroke-width="6.5" fill="#fff"/>
<path d="M9,-23 Q22,0 11,23" stroke-width="4.5"/>
<path d="M2,-22 Q14,0 4,24" stroke-width="5"/>
<ellipse cx="-8" cy="1" rx="10" ry="17" stroke-width="5" fill="#fff"/>
<path d="M-8,-16 L3,-20 M-8,18 L4,21 M1,-6 L8,-7 M1,8 L8,9" stroke-width="4.5"/>
</g>
<g transform="translate(957.0 1557.0) rotate(204.5) scale(1.000)">
<path d="M16,-8 L70,-8 Q76,0 70,8 L16,8" stroke-width="5.5" fill="#fff"/>
<path d="M31.0,-7 L25.0,7" stroke-width="5"/>
<path d="M40.8,-7 L34.8,7" stroke-width="5"/>
<path d="M50.5,-7 L44.5,7" stroke-width="5"/>
<path d="M60.2,-7 L54.2,7" stroke-width="5"/>
<path d="M70.0,-7 L64.0,7" stroke-width="5"/>
<path d="M70,-8 L70,8" stroke-width="7"/>
<ellipse cx="0" cy="0" rx="23" ry="28" stroke-width="6.5" fill="#fff"/>
<path d="M9,-23 Q22,0 11,23" stroke-width="4.5"/>
<path d="M2,-22 Q14,0 4,24" stroke-width="5"/>
<ellipse cx="-8" cy="1" rx="10" ry="17" stroke-width="5" fill="#fff"/>
<path d="M-8,-16 L3,-20 M-8,18 L4,21 M1,-6 L8,-7 M1,8 L8,9" stroke-width="4.5"/>
</g>
<g transform="translate(1997.0 1463.0) rotate(210.0) scale(1.000)">
<path d="M16,-8 L97,-8 Q103,0 97,8 L16,8" stroke-width="5.5" fill="#fff"/>
<path d="M31.0,-7 L25.0,7" stroke-width="5"/>
<path d="M40.4,-7 L34.4,7" stroke-width="5"/>
<path d="M49.9,-7 L43.9,7" stroke-width="5"/>
<path d="M59.3,-7 L53.3,7" stroke-width="5"/>
<path d="M68.7,-7 L62.7,7" stroke-width="5"/>
<path d="M78.1,-7 L72.1,7" stroke-width="5"/>
<path d="M87.6,-7 L81.6,7" stroke-width="5"/>
<path d="M97.0,-7 L91.0,7" stroke-width="5"/>
<path d="M97,-8 L97,8" stroke-width="7"/>
<ellipse cx="0" cy="0" rx="23" ry="28" stroke-width="6.5" fill="#fff"/>
<path d="M9,-23 Q22,0 11,23" stroke-width="4.5"/>
<path d="M2,-22 Q14,0 4,24" stroke-width="5"/>
<ellipse cx="-8" cy="1" rx="10" ry="17" stroke-width="5" fill="#fff"/>
<path d="M-8,-16 L3,-20 M-8,18 L4,21 M1,-6 L8,-7 M1,8 L8,9" stroke-width="4.5"/>
</g>
<g transform="translate(1237 340)">
<path d="M-11,28 L-11,76 Q0,82 11,76 L11,28" stroke-width="5.5" fill="#fff"/>
<path d="M-8,36 L8,40" stroke-width="4.5"/>
<path d="M-8,46 L8,50" stroke-width="4.5"/>
<path d="M-8,56 L8,60" stroke-width="4.5"/>
<path d="M-8,66 L8,70" stroke-width="4.5"/>
<ellipse cx="0" cy="14" rx="29" ry="13" stroke-width="5.5" fill="#fff"/>
<ellipse cx="0" cy="6" rx="29" ry="13" stroke-width="5.5" fill="#fff"/>
<path d="M-20,-2 L-17,-14 L-8,-19 L10,-19 L18,-13 L20,-2 Q0,12 -20,-2 Z" stroke-width="5" fill="#fff"/>
<path d="M-9,-10 L9,-10 L12,2 M-9,-10 L-12,2" stroke-width="4"/>
</g>
<g transform="translate(2252 1413) rotate(76)">
<path d="M8,-7 L48,-7 L50,7 L8,7" stroke-width="5" fill="#fff"/>
<path d="M22,-6 L18,6" stroke-width="4"/>
<path d="M31,-6 L27,6" stroke-width="4"/>
<path d="M40,-6 L36,6" stroke-width="4"/>
<path d="M40,-7 L50,-7 L50,7 L40,7 Z" stroke-width="4" fill="#000"/>
<ellipse cx="-2" cy="0" rx="14" ry="19" stroke-width="5" fill="#fff"/>
<path d="M4,-16 L10,-8 L10,8 L4,16" stroke-width="4"/>
</g>
<g transform="translate(2275 1330)">
<ellipse cx="8" cy="-4" rx="18" ry="25" transform="rotate(-20 8 -4)" stroke-width="5" fill="#fff"/>
<ellipse cx="2" cy="-1" rx="18" ry="25" transform="rotate(-20 2 -1)" stroke-width="5" fill="#fff"/>
<ellipse cx="-6" cy="2" rx="19" ry="24" transform="rotate(-20 -6 2)" stroke-width="5.5" fill="#fff"/>
<ellipse cx="-8" cy="4" rx="8" ry="10" stroke-width="6" fill="#000"/>
<path d="M-14,-16 L-6,-10 M6,-8 L0,-4 M6,10 L0,12" stroke-width="4"/>
</g>
</g>
<g id="labels">
<text transform="translate(92.0 919.7) scale(0.88 1)" font-size="52" text-anchor="middle" fill="#000" stroke="none" >12</text>
<path d="M93,932 L94,1048" stroke-width="3.5" />
<text transform="translate(242.0 1767.7) scale(0.88 1)" font-size="52" text-anchor="middle" fill="#000" stroke="none" >12</text>
<path d="M243,1642 L243,1718" stroke-width="3.5" />
<text transform="translate(497.0 1834.7) scale(0.88 1)" font-size="52" text-anchor="middle" fill="#000" stroke="none" >12</text>
<path d="M545,1814 L612,1813" stroke-width="3" />
<text transform="translate(925.0 1421.7) scale(0.88 1)" font-size="52" text-anchor="middle" fill="#000" stroke="none" >12</text>
<path d="M925,1322 L925,1373" stroke-width="3.5" />
<text transform="translate(952.0 1715.7) scale(0.88 1)" font-size="52" text-anchor="middle" fill="#000" stroke="none" >12</text>
<path d="M955,1583 L955,1668" stroke-width="3.5" />
<text transform="translate(601.0 807.7) scale(0.88 1)" font-size="52" text-anchor="middle" fill="#000" stroke="none" >2</text>
<path d="M603,818 L603,967" stroke-width="3.5" />
<text transform="translate(1235.0 213.7) scale(0.88 1)" font-size="52" text-anchor="middle" fill="#000" stroke="none" >13</text>
<path d="M1237,228 L1237,318" stroke-width="3.5" />
<text transform="translate(1434.0 344.7) scale(0.88 1)" font-size="52" text-anchor="middle" fill="#000" stroke="none" >6</text>
<path d="M1435.5,356 L1435.5,480" stroke-width="3.5" />
<text transform="translate(2563.0 250.7) scale(0.88 1)" font-size="52" text-anchor="middle" fill="#000" stroke="none" >5</text>
<path d="M2397,233 L2535,230" stroke-width="3.5" />
<text transform="translate(2347.0 789.7) scale(0.88 1)" font-size="52" text-anchor="middle" fill="#000" stroke="none" >4</text>
<text transform="translate(2802.0 1568.7) scale(0.88 1)" font-size="52" text-anchor="middle" fill="#000" stroke="none" >3</text>
<path d="M2665,1549 L2773,1549" stroke-width="4" />
<text transform="translate(2462.0 1353.7) scale(0.88 1)" font-size="52" text-anchor="middle" fill="#000" stroke="none" >11</text>
<path d="M2300,1335 L2425,1335" stroke-width="3.5" />
<path d="M2425,1335 L2415,1332 L2415,1338 Z" stroke-width="2" fill="#000"/>
<text transform="translate(2152.0 1438.7) scale(0.88 1)" font-size="52" text-anchor="middle" fill="#000" stroke="none" >10</text>
<path d="M2197,1418 L2234,1418" stroke-width="3" />
<text transform="translate(1993.0 1612.7) scale(0.88 1)" font-size="52" text-anchor="middle" fill="#000" stroke="none" >14</text>
<path d="M1991,1492 L1991,1562" stroke-width="3.5" />
<text transform="translate(1822.0 1561.7) scale(0.88 1)" font-size="52" text-anchor="middle" fill="#000" stroke="none" >7</text>
<path d="M1817,1405 L1820,1513" stroke-width="3.5" />
<text transform="translate(1695.0 1451.7) scale(0.88 1)" font-size="52" text-anchor="middle" fill="#000" stroke="none" >9</text>
<path d="M1690,1323 L1692,1403" stroke-width="3.5" />
<text transform="translate(1562.0 1353.7) scale(0.88 1)" font-size="52" text-anchor="middle" fill="#000" stroke="none" >8</text>
<path d="M1557,1177 L1557,1307" stroke-width="3.5" />
<path d="M1557,1365 L1558,1513 L1342,1513 L1342,1345" stroke-width="3.5" />
<text transform="translate(1455.0 1631.7) scale(0.88 1)" font-size="52" text-anchor="middle" fill="#000" stroke="none" >1</text>
<path d="M1455,1513 L1455,1585" stroke-width="3.5" />
</g>
<g id="p6">
<path d="M 1352.5,439.5 L 1505.2,519.2 Q 1518.5,528.5 1519.2,551.8 L 1516.8,604.9 L 1512.5,644.7 Q 1501.9,656.3 1485.3,651.4 L 1345.8,571.7 Q 1337.5,566.7 1337.5,555.1 L 1335.2,458.8 Q 1335.9,442.2 1352.5,439.5 Z" stroke-width="5.5" />
<path d="M 1357.5,441.5 L 1385.7,448.8 L 1392.3,446.2 L 1405.6,452.2 L 1405.6,460.5 L 1478.6,500.3 L 1485.3,497.0 L 1498.6,503.6 L 1500.2,511.9" stroke-width="3.5" />
<path d="M 1347.5,453.8 L 1498.6,531.8 Q 1509.2,538.5 1509.2,553.4 L 1505.2,638.1" stroke-width="3" />
<path d="M 1518.5,571.7 L 1530.1,578.3 L 1528.4,591.6 L 1518.5,601.6" stroke-width="3.5" />
<path d="M 1385.0,493.7 L 1359.1,480.4 Q 1352.5,483.7 1355.8,492.0 L 1385.0,506.9" stroke-width="3.5" />
<path d="M 1397.3,500.3 L 1470.3,538.5" stroke-width="3.5" />
<path d="M 1397.3,513.6 L 1470.3,551.8" stroke-width="3.5" />
<path d="M 1482.0,545.1 L 1501.9,555.1 Q 1506.9,563.4 1498.6,568.4 L 1482.0,560.1" stroke-width="3.5" />
<path d="M 1385.0,506.9 L 1385.0,578.3 Q 1390.7,588.3 1397.3,580.0 L 1397.3,513.6" stroke-width="3.5" />
<path d="M 1385.0,493.7 L 1384.0,478.7 Q 1390.7,472.1 1397.3,480.4 L 1397.3,500.3" stroke-width="3.5" />
<path d="M 1470.3,551.8 L 1470.3,618.2 Q 1476.0,628.1 1482.0,619.8 L 1482.0,560.1" stroke-width="3.5" />
<path d="M 1470.3,538.5 L 1469.3,525.2 Q 1476.0,518.6 1482.6,526.9 L 1482.0,545.1" stroke-width="3.5" />
<path d="M 1405.6,508.6 L 1465.4,540.1" stroke-width="2" stroke-dasharray="3 5"/>
<path d="M 1352.5,551.8 L 1472.0,621.5" stroke-width="2" stroke-dasharray="2 9"/>
<path d="M 1493.6,541.8 L 1491.9,631.4" stroke-width="2.5" stroke-dasharray="3 6"/>
</g>
<g id="p5">
<path d="M 2245.0,56.7 C 2233.3,86.7 2228.3,186.7 2231.7,220.0 C 2233.3,246.7 2243.3,266.7 2250.0,286.7 L 2266.7,386.7 Q 2286.7,450.0 2310.0,486.7 Q 2333.3,510.0 2353.3,510.0 Q 2376.7,506.7 2383.3,486.7 L 2387.3,453.3" stroke-width="5.5" />
<path d="M 2245.0,56.7 Q 2253.3,41.7 2271.7,39.3 L 2296.7,38.3" stroke-width="5" />
<path d="M 2256.7,76.7 C 2246.7,106.7 2240.0,186.7 2242.7,236.7" stroke-width="3" />
<path d="M 2246.7,120.0 Q 2250.0,113.3 2259.3,120.7 L 2313.3,206.7 Q 2335.0,246.7 2335.0,286.7 L 2321.7,436.7 Q 2316.7,453.3 2300.0,445.0 Q 2280.0,386.7 2261.7,286.7 Q 2246.7,186.7 2246.7,120.0 Z" stroke-width="4.5" />
<path d="M 2258.3,133.3 L 2306.7,213.3 Q 2325.0,250.0 2325.0,286.7 L 2313.3,430.0 Q 2310.0,441.7 2303.3,436.7" stroke-width="3" />
<path d="M 2260.0,353.3 Q 2273.3,413.3 2300.0,453.3 Q 2313.3,466.7 2326.7,453.3" stroke-width="3.5" />
<path d="M 2253.3,83.3 L 2271.7,80.0 L 2346.7,206.7 Q 2358.3,236.7 2356.7,273.3 L 2345.0,456.7 Q 2343.3,476.7 2333.3,486.7" stroke-width="8" />
<path d="M 2276.7,86.7 L 2283.3,76.7" stroke-width="6" />
<path d="M 2256.7,96.7 L 2266.7,91.7 L 2333.3,206.7" stroke-width="3" />
<path d="M 2348.3,286.7 L 2340.0,460.0" stroke-width="6" />
<path d="M 2380.0,330.0 L 2375.0,413.3" stroke-width="7" stroke-dasharray="30 14"/>
<path d="M 2266.7,103.3 L 2310.0,176.7" stroke-width="4" stroke-dasharray="2 10"/>
<path d="M 2250.0,160.0 L 2253.3,253.3" stroke-width="3" stroke-dasharray="2 12"/>
<path d="M 2280.0,70.0 L 2360.0,186.7 Q 2370.0,210.0 2368.3,253.3 L 2356.7,470.0" stroke-width="4" />
<path d="M 2296.7,70.0 L 2310.0,86.7 L 2366.7,181.7" stroke-width="4.5" />
<path d="M 2283.3,96.7 L 2340.0,193.3" stroke-width="6" stroke-dasharray="4 7"/>
<path d="M 2293.3,86.7 L 2346.7,170.0" stroke-width="5" stroke-dasharray="6 8"/>
<path d="M 2356.7,220.0 L 2355.0,273.3" stroke-width="7" stroke-dasharray="5 6"/>
<path d="M 2366.7,181.7 Q 2386.7,186.7 2396.7,226.7 Q 2400.0,253.3 2393.3,270.0 L 2381.7,272.7 Q 2385.0,236.7 2375.0,206.7" stroke-width="4.5" />
<path d="M 2381.7,272.7 L 2373.3,320.0 L 2368.3,416.7" stroke-width="4" />
<path d="M 2393.3,320.0 L 2386.7,416.7" stroke-width="4" />
<path d="M 2373.3,320.0 L 2393.3,320.0" stroke-width="3.5" />
<path d="M 2356.7,286.7 L 2346.7,296.7 L 2346.7,320.0 L 2356.7,313.3" stroke-width="4" />
<path d="M 2363.3,386.7 L 2360.0,453.3" stroke-width="6" stroke-dasharray="10 8"/>
<path d="M 2287.3,43.3 Q 2292.0,36.7 2296.7,43.3 L 2297.3,65.0 L 2286.0,65.0 Z" stroke-width="4.5" />
<path d="M 2280.0,66.7 Q 2291.7,75.0 2301.7,66.7" stroke-width="5" />
<path d="M 2356.0,143.3 Q 2360.0,136.7 2364.0,143.3 L 2365.0,166.7 L 2354.0,166.7 Z" stroke-width="4.5" />
<path d="M 2348.3,170.0 Q 2360.0,178.3 2370.0,170.0" stroke-width="5" />
<path d="M 2375.0,286.7 L 2405.0,303.3 Q 2413.3,308.3 2408.3,316.0 L 2373.3,300.0 Z" stroke-width="4.5" />
<path d="M 2370.0,283.3 Q 2365.0,296.7 2373.3,306.7" stroke-width="5.5" />
<path d="M 2370.0,436.7 L 2400.0,453.3 Q 2408.3,458.3 2403.3,466.0 L 2368.3,450.0 Z" stroke-width="4.5" />
<path d="M 2365.0,433.3 Q 2360.0,446.7 2368.3,456.7" stroke-width="5.5" />
<path d="M 2310.0,486.7 Q 2326.7,480.0 2340.0,463.3" stroke-width="4" />
<path d="M 2316.7,463.3 L 2343.3,480.0" stroke-width="8" stroke-dasharray="4 6"/>
<path d="M 2353.3,510.0 L 2356.7,470.0" stroke-width="4" />
<path d="M 2373.3,463.3 L 2381.7,466.7 L 2380.0,486.7" stroke-width="4" />
</g>
<g id="p8">
<clipPath id="c8"><path d="M 1626.7,1115.0 L 1536.7,1064.0 Q 1513.3,1061.7 1500.0,1086.7 Q 1486.7,1113.3 1493.3,1130.0 Q 1500.0,1141.7 1510.0,1145.0 L 1590.0,1191.7 Z"/></clipPath>
<g clip-path="url(#c8)">
<path d="M 1382.7,1060.0 L 1429.3,1210.0" stroke-width="3" stroke-dasharray="8 10"/>
<path d="M 1469.3,1060.0 L 1382.7,1210.0" stroke-width="3" stroke-dasharray="6 14"/>
<path d="M 1394.0,1060.0 L 1440.7,1210.0" stroke-width="3" stroke-dasharray="8 10"/>
<path d="M 1480.7,1060.0 L 1394.0,1210.0" stroke-width="3" stroke-dasharray="6 14"/>
<path d="M 1405.3,1060.0 L 1452.0,1210.0" stroke-width="3" stroke-dasharray="8 10"/>
<path d="M 1492.0,1060.0 L 1405.3,1210.0" stroke-width="3" stroke-dasharray="6 14"/>
<path d="M 1416.7,1060.0 L 1463.3,1210.0" stroke-width="3" stroke-dasharray="8 10"/>
<path d="M 1503.3,1060.0 L 1416.7,1210.0" stroke-width="3" stroke-dasharray="6 14"/>
<path d="M 1428.0,1060.0 L 1474.7,1210.0" stroke-width="3" stroke-dasharray="8 10"/>
<path d="M 1514.7,1060.0 L 1428.0,1210.0" stroke-width="3" stroke-dasharray="6 14"/>
<path d="M 1439.3,1060.0 L 1486.0,1210.0" stroke-width="3" stroke-dasharray="8 10"/>
<path d="M 1526.0,1060.0 L 1439.3,1210.0" stroke-width="3" stroke-dasharray="6 14"/>
<path d="M 1450.7,1060.0 L 1497.3,1210.0" stroke-width="3" stroke-dasharray="8 10"/>
<path d="M 1537.3,1060.0 L 1450.7,1210.0" stroke-width="3" stroke-dasharray="6 14"/>
<path d="M 1462.0,1060.0 L 1508.7,1210.0" stroke-width="3" stroke-dasharray="8 10"/>
<path d="M 1548.7,1060.0 L 1462.0,1210.0" stroke-width="3" stroke-dasharray="6 14"/>
<path d="M 1473.3,1060.0 L 1520.0,1210.0" stroke-width="3" stroke-dasharray="8 10"/>
<path d="M 1560.0,1060.0 L 1473.3,1210.0" stroke-width="3" stroke-dasharray="6 14"/>
<path d="M 1484.7,1060.0 L 1531.3,1210.0" stroke-width="3" stroke-dasharray="8 10"/>
<path d="M 1571.3,1060.0 L 1484.7,1210.0" stroke-width="3" stroke-dasharray="6 14"/>
<path d="M 1496.0,1060.0 L 1542.7,1210.0" stroke-width="3" stroke-dasharray="8 10"/>
<path d="M 1582.7,1060.0 L 1496.0,1210.0" stroke-width="3" stroke-dasharray="6 14"/>
<path d="M 1507.3,1060.0 L 1554.0,1210.0" stroke-width="3" stroke-dasharray="8 10"/>
<path d="M 1594.0,1060.0 L 1507.3,1210.0" stroke-width="3" stroke-dasharray="6 14"/>
<path d="M 1518.7,1060.0 L 1565.3,1210.0" stroke-width="3" stroke-dasharray="8 10"/>
<path d="M 1605.3,1060.0 L 1518.7,1210.0" stroke-width="3" stroke-dasharray="6 14"/>
<path d="M 1530.0,1060.0 L 1576.7,1210.0" stroke-width="3" stroke-dasharray="8 10"/>
<path d="M 1616.7,1060.0 L 1530.0,1210.0" stroke-width="3" stroke-dasharray="6 14"/>
<path d="M 1541.3,1060.0 L 1588.0,1210.0" stroke-width="3" stroke-dasharray="8 10"/>
<path d="M 1628.0,1060.0 L 1541.3,1210.0" stroke-width="3" stroke-dasharray="6 14"/>
<path d="M 1552.7,1060.0 L 1599.3,1210.0" stroke-width="3" stroke-dasharray="8 10"/>
<path d="M 1639.3,1060.0 L 1552.7,1210.0" stroke-width="3" stroke-dasharray="6 14"/>
<path d="M 1564.0,1060.0 L 1610.7,1210.0" stroke-width="3" stroke-dasharray="8 10"/>
<path d="M 1650.7,1060.0 L 1564.0,1210.0" stroke-width="3" stroke-dasharray="6 14"/>
<path d="M 1575.3,1060.0 L 1622.0,1210.0" stroke-width="3" stroke-dasharray="8 10"/>
<path d="M 1662.0,1060.0 L 1575.3,1210.0" stroke-width="3" stroke-dasharray="6 14"/>
<path d="M 1586.7,1060.0 L 1633.3,1210.0" stroke-width="3" stroke-dasharray="8 10"/>
<path d="M 1673.3,1060.0 L 1586.7,1210.0" stroke-width="3" stroke-dasharray="6 14"/>
<path d="M 1598.0,1060.0 L 1644.7,1210.0" stroke-width="3" stroke-dasharray="8 10"/>
<path d="M 1684.7,1060.0 L 1598.0,1210.0" stroke-width="3" stroke-dasharray="6 14"/>
<path d="M 1609.3,1060.0 L 1656.0,1210.0" stroke-width="3" stroke-dasharray="8 10"/>
<path d="M 1696.0,1060.0 L 1609.3,1210.0" stroke-width="3" stroke-dasharray="6 14"/>
<path d="M 1620.7,1060.0 L 1667.3,1210.0" stroke-width="3" stroke-dasharray="8 10"/>
<path d="M 1707.3,1060.0 L 1620.7,1210.0" stroke-width="3" stroke-dasharray="6 14"/>
<path d="M 1632.0,1060.0 L 1678.7,1210.0" stroke-width="3" stroke-dasharray="8 10"/>
<path d="M 1718.7,1060.0 L 1632.0,1210.0" stroke-width="3" stroke-dasharray="6 14"/>
<path d="M 1643.3,1060.0 L 1690.0,1210.0" stroke-width="3" stroke-dasharray="8 10"/>
<path d="M 1730.0,1060.0 L 1643.3,1210.0" stroke-width="3" stroke-dasharray="6 14"/>
<path d="M 1654.7,1060.0 L 1701.3,1210.0" stroke-width="3" stroke-dasharray="8 10"/>
<path d="M 1741.3,1060.0 L 1654.7,1210.0" stroke-width="3" stroke-dasharray="6 14"/>
<path d="M 1666.0,1060.0 L 1712.7,1210.0" stroke-width="3" stroke-dasharray="8 10"/>
<path d="M 1752.7,1060.0 L 1666.0,1210.0" stroke-width="3" stroke-dasharray="6 14"/>
<path d="M 1677.3,1060.0 L 1724.0,1210.0" stroke-width="3" stroke-dasharray="8 10"/>
<path d="M 1764.0,1060.0 L 1677.3,1210.0" stroke-width="3" stroke-dasharray="6 14"/>
<path d="M 1688.7,1060.0 L 1735.3,1210.0" stroke-width="3" stroke-dasharray="8 10"/>
<path d="M 1775.3,1060.0 L 1688.7,1210.0" stroke-width="3" stroke-dasharray="6 14"/>
<path d="M 1700.0,1060.0 L 1746.7,1210.0" stroke-width="3" stroke-dasharray="8 10"/>
<path d="M 1786.7,1060.0 L 1700.0,1210.0" stroke-width="3" stroke-dasharray="6 14"/>
<path d="M 1711.3,1060.0 L 1758.0,1210.0" stroke-width="3" stroke-dasharray="8 10"/>
<path d="M 1798.0,1060.0 L 1711.3,1210.0" stroke-width="3" stroke-dasharray="6 14"/>
<path d="M 1722.7,1060.0 L 1769.3,1210.0" stroke-width="3" stroke-dasharray="8 10"/>
<path d="M 1809.3,1060.0 L 1722.7,1210.0" stroke-width="3" stroke-dasharray="6 14"/>
<path d="M 1734.0,1060.0 L 1780.7,1210.0" stroke-width="3" stroke-dasharray="8 10"/>
<path d="M 1820.7,1060.0 L 1734.0,1210.0" stroke-width="3" stroke-dasharray="6 14"/>
<path d="M 1745.3,1060.0 L 1792.0,1210.0" stroke-width="3" stroke-dasharray="8 10"/>
<path d="M 1832.0,1060.0 L 1745.3,1210.0" stroke-width="3" stroke-dasharray="6 14"/>
<path d="M 1756.7,1060.0 L 1803.3,1210.0" stroke-width="3" stroke-dasharray="8 10"/>
<path d="M 1843.3,1060.0 L 1756.7,1210.0" stroke-width="3" stroke-dasharray="6 14"/>
<path d="M 1768.0,1060.0 L 1814.7,1210.0" stroke-width="3" stroke-dasharray="8 10"/>
<path d="M 1854.7,1060.0 L 1768.0,1210.0" stroke-width="3" stroke-dasharray="6 14"/>
<path d="M 1779.3,1060.0 L 1826.0,1210.0" stroke-width="3" stroke-dasharray="8 10"/>
<path d="M 1866.0,1060.0 L 1779.3,1210.0" stroke-width="3" stroke-dasharray="6 14"/>
<path d="M 1790.7,1060.0 L 1837.3,1210.0" stroke-width="3" stroke-dasharray="8 10"/>
<path d="M 1877.3,1060.0 L 1790.7,1210.0" stroke-width="3" stroke-dasharray="6 14"/>
<path d="M 1802.0,1060.0 L 1848.7,1210.0" stroke-width="3" stroke-dasharray="8 10"/>
<path d="M 1888.7,1060.0 L 1802.0,1210.0" stroke-width="3" stroke-dasharray="6 14"/>
</g>
<path d="M 1626.7,1115.0 L 1536.7,1064.0 Q 1513.3,1061.7 1500.0,1086.7 Q 1486.7,1113.3 1493.3,1130.0 Q 1500.0,1141.7 1510.0,1145.0 L 1590.0,1191.7" stroke-width="5" />
<ellipse cx="1626.7" cy="1163.3" rx="33.0" ry="53.0" transform="rotate(25 1626.7 1163.3)" stroke-width="5.5" fill="#fff"/>
<ellipse cx="1628.0" cy="1164.0" rx="26.0" ry="45.0" transform="rotate(25 1628.0 1164.0)" stroke-width="4" fill="none"/>
<ellipse cx="1631.0" cy="1166.0" rx="17.0" ry="36.0" transform="rotate(25 1631.0 1166.0)" stroke-width="3" fill="#000"/>
<ellipse cx="1638.0" cy="1170.0" rx="8.0" ry="27.0" transform="rotate(25 1638.0 1170.0)" stroke-width="3" fill="#fff"/>
<path d="M 1596.7,1120.0 Q 1580.0,1146.7 1588.3,1190.0" stroke-width="4" />
</g>
<g id="p9">
<path d="M 1753.3,1110.0 Q 1770.0,1116.7 1771.7,1143.3 L 1770.0,1193.3 Q 1765.0,1226.7 1753.3,1246.7 L 1716.7,1300.0 Q 1703.3,1323.3 1690.0,1323.3 Q 1673.3,1320.0 1666.7,1300.0 Q 1658.3,1260.0 1661.7,1240.0 Q 1666.7,1210.0 1700.0,1160.0 L 1730.0,1120.0 Q 1740.0,1108.3 1753.3,1110.0 Z" stroke-width="5.5" />
<path d="M 1741.7,1110.7 Q 1730.0,1116.7 1723.3,1126.7 L 1691.7,1166.7 Q 1661.7,1210.0 1658.3,1246.7 Q 1656.0,1276.7 1664.0,1303.3 Q 1673.3,1323.3 1690.0,1325.0" stroke-width="3.5" />
<ellipse cx="1720.0" cy="1213.3" rx="27.0" ry="43.0" transform="rotate(25 1720.0 1213.3)" stroke-width="4.5" fill="none"/>
<ellipse cx="1723.0" cy="1214.0" rx="22.0" ry="38.0" transform="rotate(25 1723.0 1214.0)" stroke-width="3" fill="none"/>
<ellipse cx="1750.0" cy="1140.0" rx="11.0" ry="16.0" transform="rotate(25 1750.0 1140.0)" stroke-width="4.5" fill="none"/>
<ellipse cx="1696.7" cy="1293.3" rx="12.0" ry="17.0" transform="rotate(25 1696.7 1293.3)" stroke-width="4.5" fill="none"/>
<ellipse cx="1752.0" cy="1141.0" rx="6.0" ry="10.0" transform="rotate(25 1752.0 1141.0)" stroke-width="2.5" fill="none"/>
<ellipse cx="1698.0" cy="1294.0" rx="6.0" ry="10.0" transform="rotate(25 1698.0 1294.0)" stroke-width="2.5" fill="none"/>
<path d="M 1680.0,1200.0 L 1673.3,1266.7" stroke-width="4" stroke-dasharray="3 9"/>
<path d="M 1760.0,1160.0 L 1750.0,1233.3" stroke-width="5" stroke-dasharray="4 8"/>
<path d="M 1703.3,1170.0 L 1686.7,1200.0" stroke-width="4" stroke-dasharray="5 7"/>
<path d="M 1740.0,1260.0 L 1713.3,1293.3" stroke-width="4" stroke-dasharray="5 7"/>
<path d="M 1726.7,1156.7 L 1753.3,1170.0" stroke-width="4" stroke-dasharray="4 6"/>
<path d="M 1686.7,1260.0 L 1706.7,1273.3" stroke-width="4" stroke-dasharray="4 6"/>
</g>
<g id="p7">
<path d="M 1910.0,1255.0 L 1901.7,1203.3 Q 1896.7,1185.0 1873.3,1181.7 Q 1863.3,1181.7 1853.3,1196.7 L 1816.7,1250.0 Q 1793.3,1290.0 1791.7,1320.0 L 1795.0,1376.7 Q 1801.7,1400.0 1816.7,1404.0 Q 1833.3,1403.3 1840.0,1395.0 L 1868.3,1361.7" stroke-width="5" />
<path d="M 1876.7,1193.3 Q 1866.7,1193.3 1860.0,1203.3 L 1826.7,1256.7 Q 1808.3,1290.0 1806.7,1320.0 L 1810.0,1373.3 Q 1811.7,1390.0 1820.0,1396.7" stroke-width="3.5" />
<path d="M 1910.0,1255.0 Q 1883.3,1240.0 1863.3,1260.0 Q 1836.7,1286.7 1835.0,1316.7 Q 1835.0,1346.7 1870.0,1360.0" stroke-width="4" />
<path d="M 1896.7,1245.0 Q 1873.3,1245.0 1851.7,1266.7 Q 1825.0,1293.3 1822.7,1323.3 Q 1823.3,1350.0 1840.0,1361.7" stroke-width="3" />
<ellipse cx="1881.7" cy="1216.7" rx="11.0" ry="17.0" transform="rotate(20 1881.7 1216.7)" stroke-width="4.5" fill="none"/>
<ellipse cx="1833.0" cy="1373.0" rx="12.0" ry="17.0" transform="rotate(20 1833.0 1373.0)" stroke-width="4.5" fill="none"/>
<path d="M 1878.3,1206.7 L 1885.0,1226.7" stroke-width="3" />
<path d="M 1830.0,1363.3 L 1838.3,1383.3" stroke-width="3" />
<path d="M 1910.0,1255.0 C 1940.0,1266.7 1973.3,1276.7 2003.3,1281.7" stroke-width="4" />
<path d="M 2050.0,1276.7 C 2073.3,1271.7 2090.0,1265.0 2100.0,1261.7 L 2260.0,1181.7" stroke-width="4" />
<path d="M 1870.0,1360.0 C 1940.0,1375.0 2023.3,1381.7 2100.0,1365.0 L 2143.3,1350.0" stroke-width="4" />
<path d="M 2190.0,1326.7 L 2300.0,1270.0" stroke-width="4" />
<path d="M 2003.3,1256.7 Q 2003.3,1250.0 2013.3,1248.3 L 2036.7,1247.3 Q 2045.0,1250.0 2046.7,1260.0 L 2048.3,1275.0 Q 2036.7,1293.3 2020.0,1296.7 Q 2006.7,1295.0 2004.0,1283.3 Z" stroke-width="4" fill="#fff"/>
<ellipse cx="2025.0" cy="1260.0" rx="11.0" ry="6.5" transform="rotate(-5 2025.0 1260.0)" stroke-width="3" fill="#000"/>
<path d="M 2004.0,1276.7 Q 2023.3,1290.0 2047.3,1273.3" stroke-width="3" />
<path d="M 2143.3,1346.7 Q 2140.0,1340.0 2153.3,1335.0 L 2180.0,1330.0 Q 2190.0,1330.0 2189.3,1340.0 L 2188.3,1348.3 Q 2176.7,1360.0 2156.7,1358.3 Q 2146.7,1356.7 2143.3,1346.7 Z" stroke-width="4" fill="#fff"/>
<path d="M 2145.0,1345.0 Q 2163.3,1340.0 2187.3,1332.7" stroke-width="2.5" />
<path d="M 2263.3,1175.0 L 2268.3,1110.0 Q 2273.3,1093.3 2288.3,1089.3 Q 2306.7,1088.3 2320.0,1103.3 L 2340.0,1126.7 Q 2366.7,1173.3 2383.3,1226.7 L 2386.7,1286.7 Q 2383.3,1303.3 2366.7,1307.3 Q 2350.0,1310.0 2340.0,1301.7 L 2305.0,1270.0" stroke-width="5" />
<path d="M 2300.0,1090.0 Q 2320.0,1096.7 2340.0,1121.7 Q 2366.7,1156.7 2380.0,1196.7 Q 2391.7,1226.7 2390.7,1286.7 Q 2388.3,1300.0 2378.3,1305.0" stroke-width="4" />
<path d="M 2306.7,1151.7 Q 2340.0,1173.3 2353.3,1213.3 Q 2358.3,1236.7 2346.7,1248.3 L 2330.0,1258.3" stroke-width="4.5" />
<path d="M 2263.3,1175.0 L 2306.7,1151.7" stroke-width="4" />
<path d="M 2273.3,1166.7 Q 2280.0,1150.0 2300.0,1146.0" stroke-width="3" />
<path d="M 2330.0,1258.3 Q 2330.0,1248.3 2343.3,1245.0" stroke-width="3" />
<path d="M 2343.3,1123.3 Q 2366.7,1125.0 2383.3,1146.7 Q 2400.0,1173.3 2401.7,1206.7 L 2393.3,1226.7" stroke-width="5" />
<path d="M 2353.3,1136.7 Q 2376.7,1146.7 2390.0,1180.0 L 2395.0,1213.3" stroke-width="4" />
<path d="M 2363.3,1150.0 Q 2383.3,1173.3 2387.3,1206.7" stroke-width="4" />
<ellipse cx="2291.7" cy="1123.3" rx="11.0" ry="17.0" transform="rotate(-20 2291.7 1123.3)" stroke-width="4.5" fill="none"/>
<ellipse cx="2345.0" cy="1280.0" rx="12.0" ry="17.0" transform="rotate(-20 2345.0 1280.0)" stroke-width="4.5" fill="none"/>
<path d="M 2286.7,1111.7 L 2296.7,1135.0" stroke-width="3" />
<path d="M 2340.0,1270.0 L 2350.0,1291.7" stroke-width="3" />
</g>
<g id="p3">
<path d="M 2351.7,1441.7 L 2426.7,1478.3 L 2510.0,1515.0 L 2603.3,1473.3 Q 2620.0,1470.0 2630.0,1478.3 Q 2656.7,1503.3 2663.3,1546.7 Q 2663.3,1576.7 2633.3,1603.3 Q 2566.7,1646.7 2466.7,1673.3 Q 2400.0,1690.0 2350.0,1686.0 Q 2250.0,1673.3 2193.3,1646.7 Q 2163.3,1623.3 2165.0,1596.7 Q 2170.0,1563.3 2233.3,1518.3 L 2333.3,1450.0 Q 2345.0,1440.0 2351.7,1441.7 Z" stroke-width="4.2" />
<path d="M 2426.7,1478.3 L 2401.7,1533.3 Q 2396.7,1556.7 2405.0,1565.0 Q 2413.3,1571.7 2433.3,1568.3 Q 2483.3,1556.7 2533.3,1530.0 L 2625.0,1476.7" stroke-width="3.5" />
<path d="M 2448.3,1496.7 L 2415.0,1550.0 Q 2410.0,1563.3 2413.3,1568.3" stroke-width="3.5" />
<ellipse cx="2281.7" cy="1534.0" rx="13.0" ry="5.0" transform="rotate(-12 2281.7 1534.0)" stroke-width="3" fill="#000"/>
<path d="M 2263.3,1528.3 Q 2246.7,1540.0 2256.7,1553.3 Q 2273.3,1561.7 2300.0,1553.3 L 2313.3,1546.7" stroke-width="2.5" />
<path d="M 2245.0,1545.0 Q 2240.0,1556.7 2256.7,1563.3 Q 2276.7,1568.3 2295.0,1561.7" stroke-width="2.5" />
</g>
<g id="fwd">
<text x="0" y="0" font-size="58" font-weight="bold" letter-spacing="5" transform="translate(2812 258) rotate(-31)" fill="#000" stroke="#000" stroke-width="2">FWD</text>
<polygon points="2921.7,148.3 2955.0,133.3 2941.7,118.3 2991.7,126.7 2978.3,181.7 2966.7,166.7 2941.7,183.3" fill="#000" stroke="#000" stroke-width="3"/>
</g>
</svg></body></html>
